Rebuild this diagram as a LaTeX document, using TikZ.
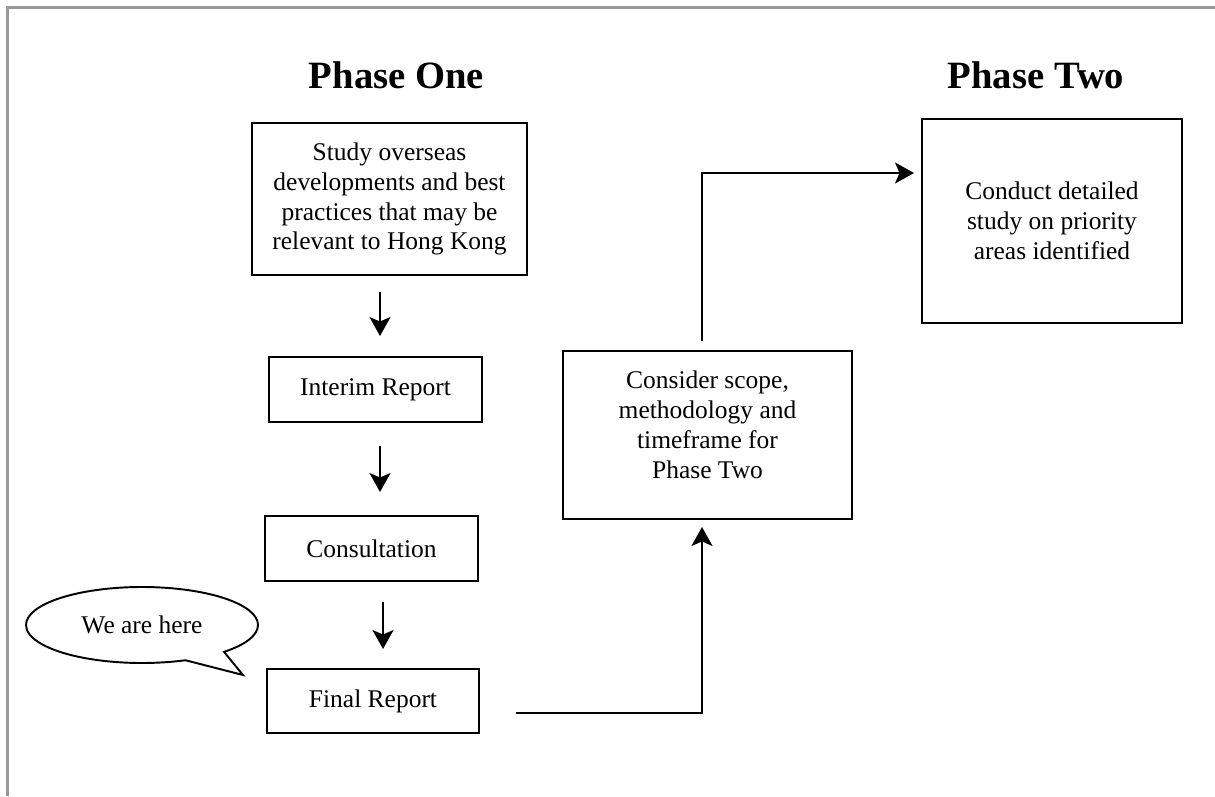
\documentclass[tikz,border=0pt]{standalone}
\usepackage{fontspec}
\setmainfont{Liberation Serif}
\usetikzlibrary{arrows.meta,shapes.callouts}
\definecolor{framegray}{RGB}{153,153,153}

\begin{document}
\begin{tikzpicture}[>={Stealth[length=3.8mm,width=4.2mm,inset=0.9mm]},line join=miter,
heading/.style={font=\fontsize{22}{26}\selectfont\bfseries,anchor=base,inner sep=0pt},
stage/.style={draw,line width=1.1pt,align=center,inner sep=0pt,font=\fontsize{14.5}{17}\selectfont},
flow/.style={->,line width=1.1pt},
bubble/.style={ellipse callout,draw,line width=1.1pt,minimum width=46.4mm,minimum height=15.2mm,inner sep=0pt,callout pointer arc=23,font=\fontsize{14.5}{17}\selectfont}]
\useasboundingbox (0,0) rectangle (24.3,15.92);
\draw[framegray,line width=1.7pt] (0.15,0) -- (0.15,15.77) -- (24.3,15.77);
\node[heading] (ttlone) at (7.93,14.14) {Phase One};
\node[heading] (ttltwo) at (20.72,14.14) {Phase Two};
\node[stage,minimum width=55mm,minimum height=30.4mm] (study) at (7.79,11.94) {Study overseas\\developments and best\\practices that may be\\relevant to Hong Kong};
\node[stage,minimum width=42.6mm,minimum height=13mm] (interim) at (7.51,8.13) {Interim Report};
\node[stage,minimum width=42.6mm,minimum height=13mm] (consult) at (7.43,4.95) {Consultation};
\node[stage,minimum width=42.4mm,minimum height=12.8mm] (final) at (7.46,1.90) {Final Report};
\node[stage,minimum width=57.8mm,minimum height=33.6mm,text depth=0.42cm] (scope) at (14.15,7.22) {Consider scope,\\methodology and\\timeframe for\\Phase Two};
\node[stage,minimum width=52mm,minimum height=40.8mm] (conduct) at (21.04,11.50) {Conduct detailed\\study on priority\\areas identified};
\node[bubble,callout absolute pointer={(4.86,2.42)}] (here) at (2.84,3.42) {We are here};
\draw[flow,shorten <=3.2mm,shorten >=4mm] ([xshift=0.09cm]interim.north |- study.south) -- ([xshift=0.09cm]interim.north);
\draw[flow,shorten <=4.6mm,shorten >=4.6mm] ([xshift=0.17cm]consult.north |- interim.south) -- ([xshift=0.17cm]consult.north);
\draw[flow,shorten <=4mm,shorten >=3.8mm] ([xshift=0.2cm]final.north |- consult.south) -- ([xshift=0.2cm]final.north);
\draw[flow,shorten >=1.4mm] ([shift={(0.72,-0.24)}]final.east) -| ([xshift=-0.11cm]scope.south);
\draw[flow,shorten <=1.8mm,shorten >=1.4mm] ([xshift=-0.11cm]scope.north) |- ([yshift=0.96cm]conduct.west);
\end{tikzpicture}
\end{document}
